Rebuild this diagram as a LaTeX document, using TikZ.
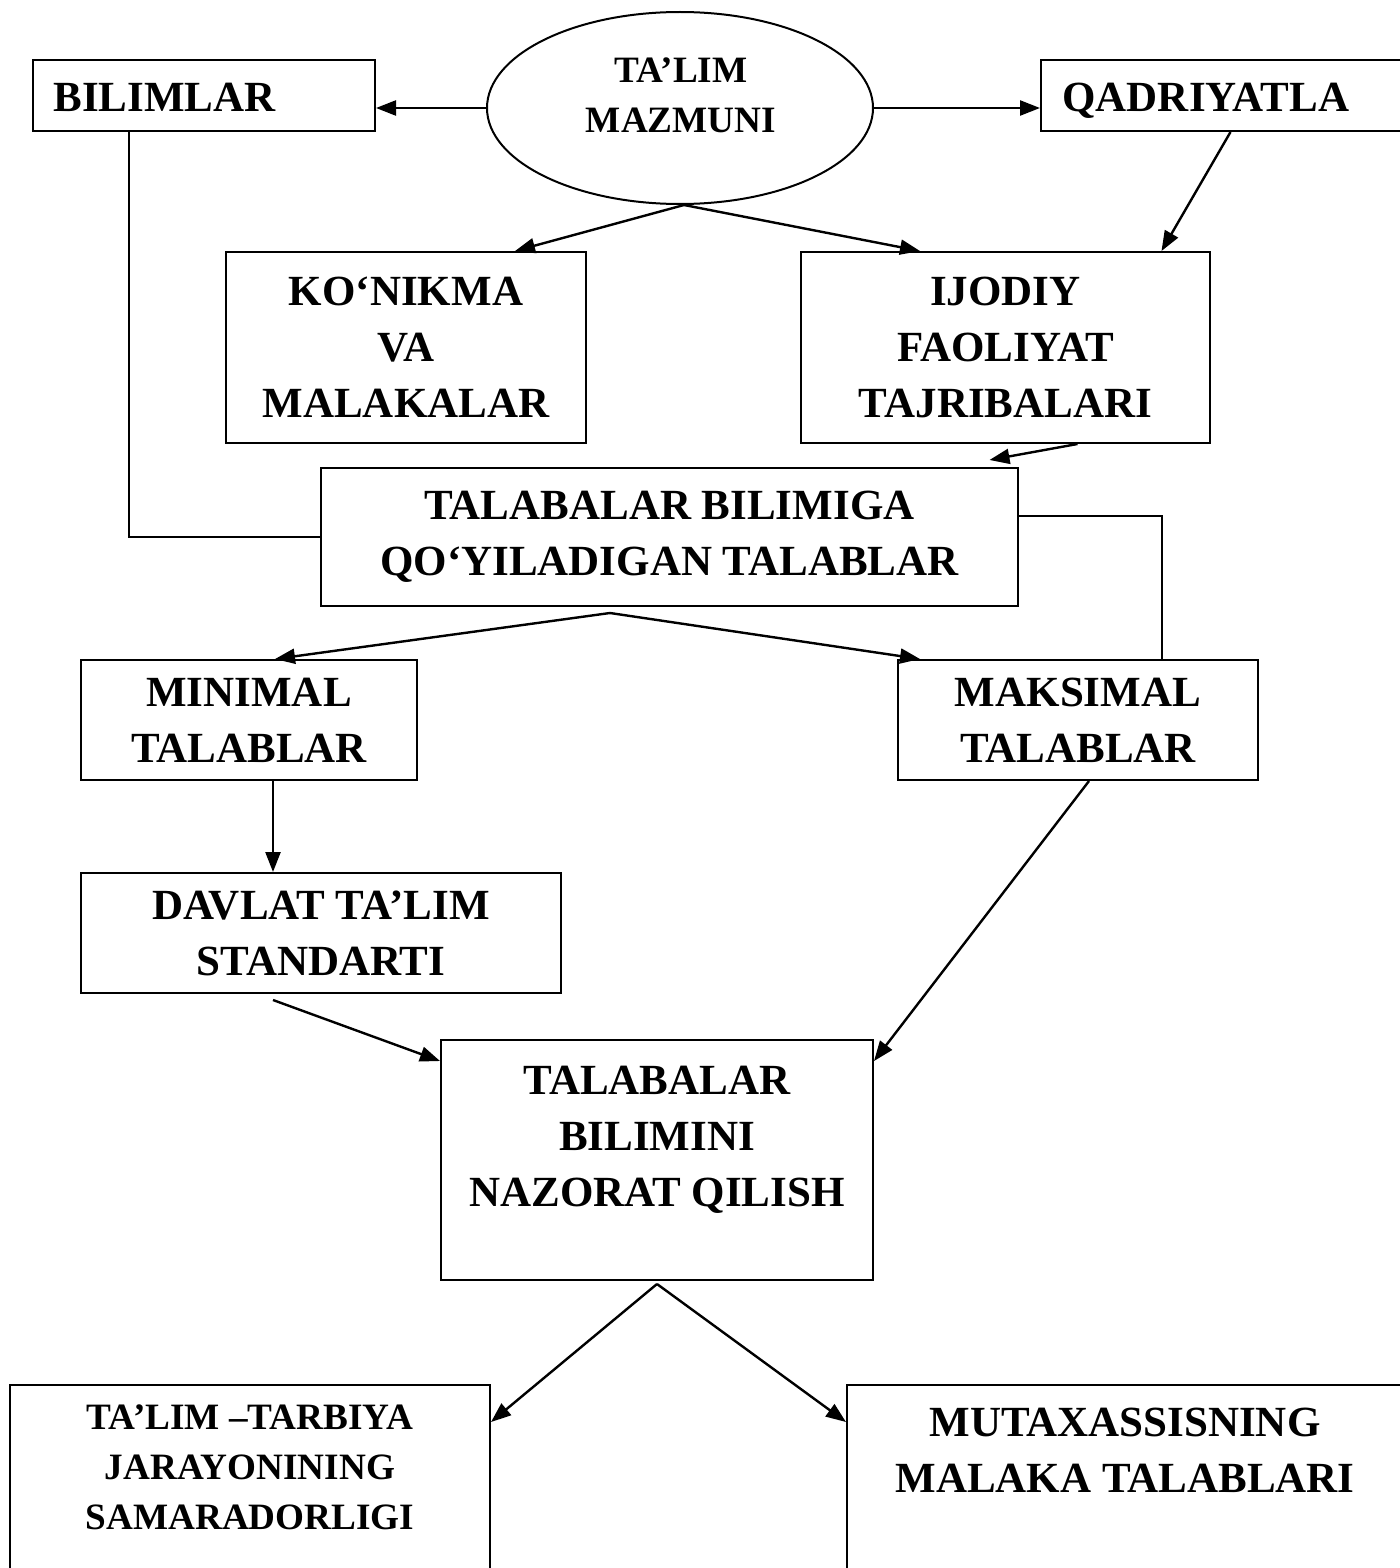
\documentclass[tikz,border=0pt]{standalone}
\usepackage{fontspec}
\setmainfont{Liberation Serif}
\usetikzlibrary{shapes.geometric,arrows.meta}
\begin{document}
\begin{tikzpicture}[x=0.5pt,y=-0.5pt,
  box/.style={draw, line width=1pt, rectangle, inner sep=0pt},
  bigtxt/.style={font=\fontsize{21.5}{28}\selectfont\bfseries, align=center, inner sep=0pt},
  midtxt/.style={font=\fontsize{18.6}{25}\selectfont\bfseries, align=center, inner sep=0pt},
  arr/.style={line width=1.2pt, -{Triangle[length=10pt,width=7.5pt]}},
  link/.style={line width=0.9pt}]
\useasboundingbox (0,0) rectangle (1400,1568);
\clip (0,0) rectangle (1400,1568);
\fill[white] (0,0) rectangle (1400,1568);
% boxes
\node[box, minimum width=171pt, minimum height=35.5pt] (bil) at (204,95.5) {};
\node[bigtxt, anchor=base west] (biltxt) at (53,112) {BILIMLAR};
\node[draw, line width=1pt, ellipse, minimum width=193pt, minimum height=96pt, inner sep=0pt] (ell) at (680,108) {};
\node[midtxt] (elltxt) at (681,95) {TA’LIM\\MAZMUNI};
\node[box, minimum width=189.5pt, minimum height=35.5pt] (qad) at (1230.5,95.5) {};
\node[bigtxt, anchor=base west] (qadtxt) at (1062,112) {QADRIYATLA};
\node[box, bigtxt, minimum width=180pt, minimum height=95.5pt] (kon) at (406,347.5) {KO‘NIKMA\\VA\\MALAKALAR};
\node[box, bigtxt, minimum width=204.5pt, minimum height=95.5pt] (ijo) at (1005.5,347.5) {IJODIY\\FAOLIYAT\\TAJRIBALARI};
\node[box, bigtxt, minimum width=348.5pt, minimum height=69pt] (tal) at (669.5,537) {TALABALAR BILIMIGA\\QO‘YILADIGAN TALABLAR};
\node[box, bigtxt, minimum width=168pt, minimum height=60pt] (min) at (249,720) {MINIMAL\\TALABLAR};
\node[box, bigtxt, minimum width=180pt, minimum height=60pt] (mak) at (1078,720) {MAKSIMAL\\TALABLAR};
\node[box, bigtxt, minimum width=240pt, minimum height=60pt] (dav) at (321,933) {DAVLAT TA’LIM\\STANDARTI};
\node[box, minimum width=216pt, minimum height=120pt] (naz) at (657,1160) {};
\node[bigtxt] (naztxt) at (657,1140) {TALABALAR\\BILIMINI\\NAZORAT QILISH};
\node[box, minimum width=240pt, minimum height=117.5pt] (tat) at (250,1502.5) {};
\node[midtxt] (tattxt) at (250,1467) {TA’LIM –TARBIYA\\JARAYONINING\\SAMARADORLIGI};
\node[box, minimum width=286.5pt, minimum height=117.5pt] (mut) at (1133.5,1502.5) {};
\node[bigtxt] (muttxt) at (1125,1450) {MUTAXASSISNING\\MALAKA TALABLARI};
% connectors
\draw[arr] (ell.west) -- (ell.west -| bil.east);
\draw[arr] (ell.east) -- (ell.east -| qad.west);
\draw[arr] ([xshift=2pt]ell.south) -- ([xshift=54.5pt]kon.north);
\draw[arr] ([xshift=2pt]ell.south) -- ([xshift=-42.75pt]ijo.north);
\draw[arr] (qad.south) -- ([xshift=78pt]ijo.north);
\draw[arr] ([xshift=36pt]ijo.south) -- ([xshift=160pt,yshift=3.5pt]tal.north);
\draw[link] ([xshift=48.5pt]bil.south west) |- (tal.west);
\draw[link] ([yshift=10.5pt]tal.east) -| ([xshift=42pt]mak.north);
\coordinate (talb) at ([xshift=-29.75pt,yshift=-3pt]tal.south);
\draw[arr] (talb) -- ([xshift=13pt]min.north);
\draw[arr] (talb) -- ([xshift=-79pt]mak.north);
\draw[arr] ([xshift=12pt]min.south) -- ([xshift=12pt]min.south |- dav.north);
\draw[arr] ([xshift=-24pt,yshift=-3pt]dav.south) -- ([yshift=-11pt]naz.north west);
\draw[arr] ([xshift=5.5pt]mak.south) -- ([yshift=-11pt]naz.north east);
\coordinate (nazb) at ([yshift=-1.5pt]naz.south);
\draw[arr] (nazb) -- ([yshift=-19pt]tat.north east);
\draw[arr] (nazb) -- ([yshift=-19pt]mut.north west);
\end{tikzpicture}
\end{document}
